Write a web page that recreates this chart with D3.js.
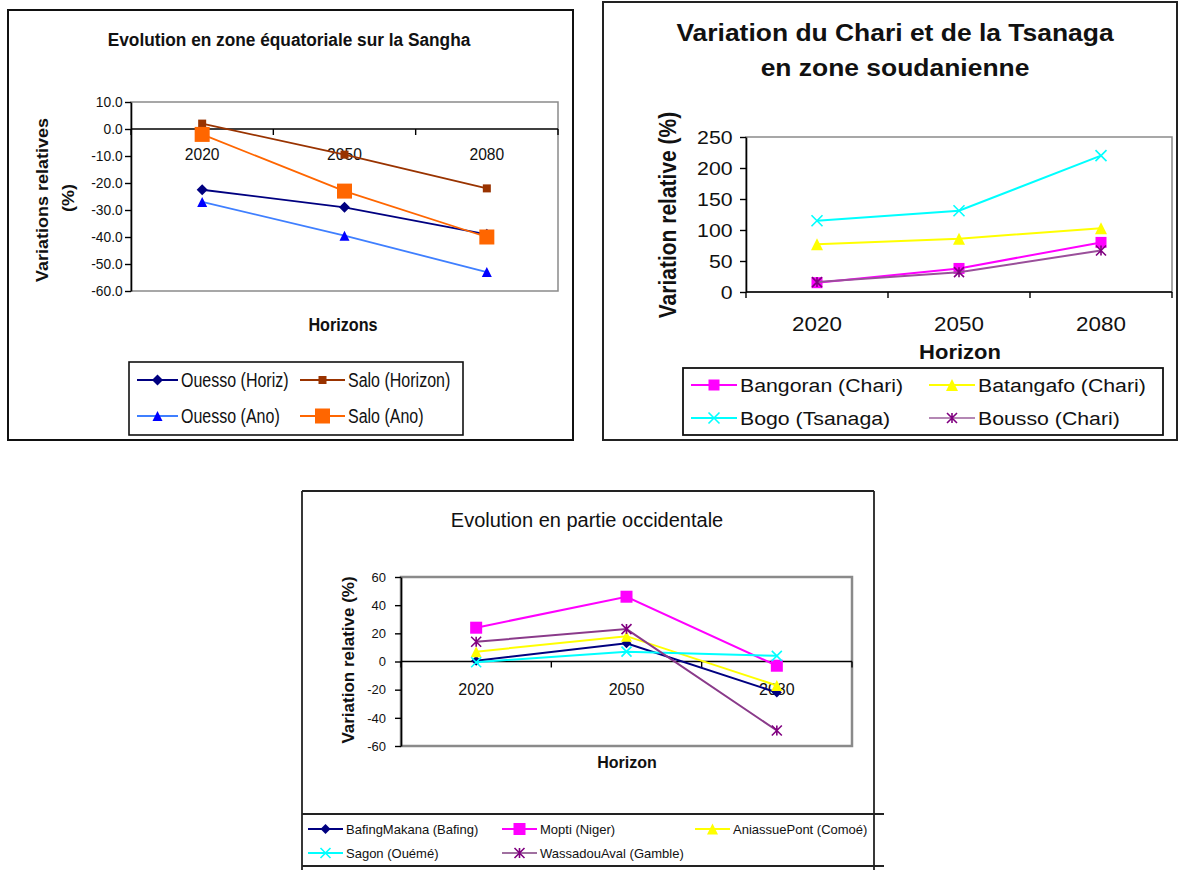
<!DOCTYPE html>
<html><head><meta charset="utf-8">
<script src="https://cdn.jsdelivr.net/npm/d3@7"></script>
<style>body{margin:0;background:#fff} svg{display:block}</style>
</head><body><svg id="c" width="1184" height="870"></svg>
<script>
// ---------- DATA ----------
const horizons = ["2020", "2050", "2080"];

// Chart 1 : Evolution en zone équatoriale sur la Sangha
const c1Names = ["Ouesso (Horiz)", "Salo (Horizon)", "Ouesso (Ano)", "Salo (Ano)"];
const c1OuessoHoriz = [-22.5, -29, -39];
const c1SaloHorizon = [2, -9.5, -22];
const c1OuessoAno = [-27, -39.5, -53];
const c1SaloAno = [-2, -23, -40];
const c1Ticks = [10, 0, -10, -20, -30, -40, -50, -60];

// Chart 2 : Variation du Chari et de la Tsanaga
const c2Names = ["Bangoran (Chari)", "Batangafo (Chari)", "Bogo (Tsanaga)", "Bousso (Chari)"];
const c2Bangoran = [15, 38, 80];
const c2Batangafo = [77, 86, 103];
const c2Bogo = [115, 131, 220];
const c2Bousso = [16, 32, 67];
const c2Ticks = [0, 50, 100, 150, 200, 250];

// Chart 3 : Evolution en partie occidentale
const c3Names = ["BafingMakana (Bafing)", "Mopti (Niger)", "AniassuePont (Comoé)", "Sagon (Ouémé)", "WassadouAval (Gamble)"];
const c3Bafing = [0.5, 13, -22];
const c3Mopti = [24, 46, -3];
const c3Aniassue = [7, 18, -17];
const c3Sagon = [-0.5, 7, 4];
const c3Wassadou = [14, 23, -49];
const c3Ticks = [60, 40, 20, 0, -20, -40, -60];

// ---------- HELPERS ----------
const FONT = "'Liberation Sans', Arial, sans-serif";
const svg = d3.select("#c");

function txt(g, x, y, s, o) {
  const t = g.append("text").text(s)
    .attr("font-family", FONT).attr("font-size", o.size)
    .attr("font-weight", o.bold ? "bold" : "normal")
    .attr("text-anchor", o.anchor || "start")
    .attr("dominant-baseline", "central").attr("fill", "#111");
  let tr = `translate(${x},${y})`;
  if (o.rot) tr += " rotate(-90)";
  tr += ` scale(${o.sx || 1},${o.sy || 1})`;
  t.attr("transform", tr);
  return t;
}

function marker(g, type, cx, cy, s, fill, stroke) {
  const h = s / 2;
  if (type === "diamond") {
    g.append("path").attr("d", `M${cx},${cy - h}L${cx + h},${cy}L${cx},${cy + h}L${cx - h},${cy}Z`).attr("fill", fill);
  } else if (type === "square") {
    g.append("rect").attr("x", cx - h).attr("y", cy - h).attr("width", s).attr("height", s).attr("fill", fill);
  } else if (type === "triangle") {
    g.append("path").attr("d", `M${cx},${cy - h}L${cx + h},${cy + h}L${cx - h},${cy + h}Z`).attr("fill", fill);
  } else if (type === "x" || type === "star") {
    let d = `M${cx - h},${cy - h}L${cx + h},${cy + h}M${cx - h},${cy + h}L${cx + h},${cy - h}`;
    if (type === "star") d += `M${cx},${cy - h}L${cx},${cy + h}`;
    g.append("path").attr("d", d).attr("stroke", fill).attr("stroke-width", 1.6).attr("fill", "none");
  }
}

function drawChart(o) {
  const g = svg.append("g");
  const x = d3.scaleBand().domain(horizons).range([o.left, o.right]).padding(0);
  const y = d3.scaleLinear().domain(o.domain).range([o.bottom, o.top]);
  const cx = c => x(c) + x.bandwidth() / 2;

  // plot area border
  g.append("rect").attr("x", o.left).attr("y", o.top)
    .attr("width", o.right - o.left).attr("height", o.bottom - o.top)
    .attr("fill", "none").attr("stroke", "#8a8a8a").attr("stroke-width", o.borderW);

  // value axis
  const ya = g.append("g").attr("transform", `translate(${o.left},0)`)
    .call(d3.axisLeft(y).tickValues(o.ticks).tickFormat(o.fmt).tickSize(6).tickSizeOuter(0).tickPadding(o.tickPad));
  ya.select(".domain").attr("stroke", "#000").attr("stroke-width", 1.6);
  ya.selectAll(".tick line").attr("stroke", "#000").attr("stroke-width", 1.4);
  ya.selectAll(".tick text").attr("font-family", FONT).attr("font-size", o.tickSize)
    .attr("fill", "#111").attr("transform", `scale(${o.sx || 1},1)`);

  // category axis
  const ay = y(o.axisAt);
  g.append("line").attr("x1", o.left).attr("x2", o.right).attr("y1", ay).attr("y2", ay)
    .attr("stroke", "#000").attr("stroke-width", 1.6);
  const bounds = horizons.map(c => x(c)).concat([o.right]);
  g.selectAll(".ctick").data(bounds).enter().append("line")
    .attr("x1", d => d).attr("x2", d => d).attr("y1", ay).attr("y2", ay + 6)
    .attr("stroke", "#000").attr("stroke-width", 1.4);
  horizons.forEach(c => txt(g, cx(c), ay + o.catOff, c, { size: o.catSize, anchor: "middle", sx: o.sx }));

  // series
  o.series.forEach(s => {
    const line = d3.line().x((d, i) => cx(horizons[i])).y(d => y(d));
    g.append("path").attr("d", line(s.values)).attr("fill", "none")
      .attr("stroke", s.lineColor || s.color).attr("stroke-width", o.lineW);
    s.values.forEach((v, i) => marker(g, s.marker, cx(horizons[i]), y(v), s.size, s.color));
  });

  // legend
  o.series.forEach((s, i) => {
    const p = o.legendPos[i];
    g.append("line").attr("x1", p[0]).attr("x2", p[1]).attr("y1", p[2]).attr("y2", p[2])
      .attr("stroke", s.legendLine || s.lineColor || s.color).attr("stroke-width", o.lineW);
    marker(g, s.marker, (p[0] + p[1]) / 2, p[2], s.size, s.color);
    txt(g, p[1] + 3, p[2], s.name, { size: o.legendSize, sx: o.legendSx || o.sx });
  });
  return g;
}

// ---------- CHART 1 ----------
svg.append("rect").attr("x", 8).attr("y", 10).attr("width", 565).attr("height", 430)
  .attr("fill", "none").attr("stroke", "#111").attr("stroke-width", 2);
const g1 = drawChart({
  left: 131, right: 558, top: 102, bottom: 291, domain: [-60, 10], axisAt: 0,
  ticks: c1Ticks, fmt: d => d.toFixed(1), tickSize: 15, tickPad: 3, sx: 0.92,
  catOff: 25, catSize: 17, borderW: 1.5, lineW: 1.8,
  legendSize: 20, legendSx: 0.8,
  series: [
    { name: c1Names[0], values: c1OuessoHoriz, color: "#000080", marker: "diamond", size: 11 },
    { name: c1Names[1], values: c1SaloHorizon, color: "#993300", marker: "square", size: 8 },
    { name: c1Names[2], values: c1OuessoAno, color: "#0000ff", lineColor: "#3f7fff", marker: "triangle", size: 10 },
    { name: c1Names[3], values: c1SaloAno, color: "#ff6600", marker: "square", size: 15 }
  ],
  legendPos: [[137, 178, 380], [300, 345, 380], [137, 178, 416], [300, 345, 416]]
});
svg.append("rect").attr("x", 129).attr("y", 362).attr("width", 334).attr("height", 73)
  .attr("fill", "none").attr("stroke", "#111").attr("stroke-width", 1.6);
txt(svg, 289, 40, "Evolution en zone équatoriale sur la Sangha", { size: 18, bold: true, anchor: "middle", sx: 0.96 });
txt(svg, 43, 200, "Variations relatives", { size: 18, bold: true, anchor: "middle", rot: true, sy: 0.9 });
txt(svg, 69, 198, "(%)", { size: 18, bold: true, anchor: "middle", rot: true, sy: 0.9 });
txt(svg, 343, 325, "Horizons", { size: 18, bold: true, anchor: "middle", sx: 0.9 });

// ---------- CHART 2 ----------
svg.append("rect").attr("x", 603).attr("y", 2).attr("width", 574).attr("height", 438)
  .attr("fill", "none").attr("stroke", "#222").attr("stroke-width", 2);
drawChart({
  left: 746, right: 1172, top: 137, bottom: 292, domain: [0, 250], axisAt: 0,
  ticks: c2Ticks, fmt: d => String(d), tickSize: 19, tickPad: 6, sx: 1.12,
  catOff: 32, catSize: 20, borderW: 1.5, lineW: 2,
  legendSize: 19, legendSx: 1.12,
  series: [
    { name: c2Names[0], values: c2Bangoran, color: "#ff00ff", marker: "square", size: 11 },
    { name: c2Names[1], values: c2Batangafo, color: "#ffff00", marker: "triangle", size: 12 },
    { name: c2Names[2], values: c2Bogo, color: "#00ffff", marker: "x", size: 11 },
    { name: c2Names[3], values: c2Bousso, color: "#800080", lineColor: "#9a4f9a", legendLine: "#b487b4", marker: "star", size: 10 }
  ],
  legendPos: [[691, 737, 385], [929, 975, 385], [691, 737, 418], [929, 975, 418]]
});
svg.append("rect").attr("x", 683).attr("y", 368).attr("width", 480).attr("height", 67)
  .attr("fill", "none").attr("stroke", "#111").attr("stroke-width", 1.8);
txt(svg, 895, 33, "Variation du Chari et de la Tsanaga", { size: 23, bold: true, anchor: "middle", sx: 1.15 });
txt(svg, 895, 68, "en zone soudanienne", { size: 23, bold: true, anchor: "middle", sx: 1.15 });
txt(svg, 668, 215, "Variation relative (%)", { size: 21, bold: true, anchor: "middle", rot: true, sy: 1.1 });
txt(svg, 960, 352, "Horizon", { size: 20, bold: true, anchor: "middle", sx: 1.1 });

// ---------- CHART 3 ----------
const f3 = svg.append("g").attr("stroke", "#222").attr("stroke-width", 1.8);
f3.append("line").attr("x1", 302).attr("x2", 874).attr("y1", 491).attr("y2", 491);
f3.append("line").attr("x1", 302).attr("x2", 302).attr("y1", 491).attr("y2", 870);
f3.append("line").attr("x1", 874).attr("x2", 874).attr("y1", 491).attr("y2", 870);
f3.append("line").attr("x1", 302).attr("x2", 884).attr("y1", 814).attr("y2", 814);
f3.append("line").attr("x1", 302).attr("x2", 884).attr("y1", 866).attr("y2", 866);
drawChart({
  left: 401, right: 852, top: 577, bottom: 746, domain: [-60, 60], axisAt: 0,
  ticks: c3Ticks, fmt: d => String(d), tickSize: 13, tickPad: 9, sx: 1,
  catOff: 28, catSize: 16, borderW: 2.5, lineW: 2,
  legendSize: 13, legendSx: 1,
  series: [
    { name: c3Names[0], values: c3Bafing, color: "#000080", marker: "diamond", size: 10 },
    { name: c3Names[1], values: c3Mopti, color: "#ff00ff", marker: "square", size: 12 },
    { name: c3Names[2], values: c3Aniassue, color: "#ffff00", marker: "triangle", size: 11 },
    { name: c3Names[3], values: c3Sagon, color: "#00ffff", marker: "x", size: 10 },
    { name: c3Names[4], values: c3Wassadou, color: "#800080", lineColor: "#8a3a8a", legendLine: "#a070a0", marker: "star", size: 10 }
  ],
  legendPos: [[308, 343, 829], [502, 537, 829], [695, 730, 829], [308, 343, 853], [502, 537, 853]]
});
txt(svg, 587, 520, "Evolution en partie occidentale", { size: 20, anchor: "middle" });
txt(svg, 348, 660, "Variation relative (%)", { size: 17, bold: true, anchor: "middle", rot: true });
txt(svg, 627, 762, "Horizon", { size: 16, bold: true, anchor: "middle" });
</script></body></html>
